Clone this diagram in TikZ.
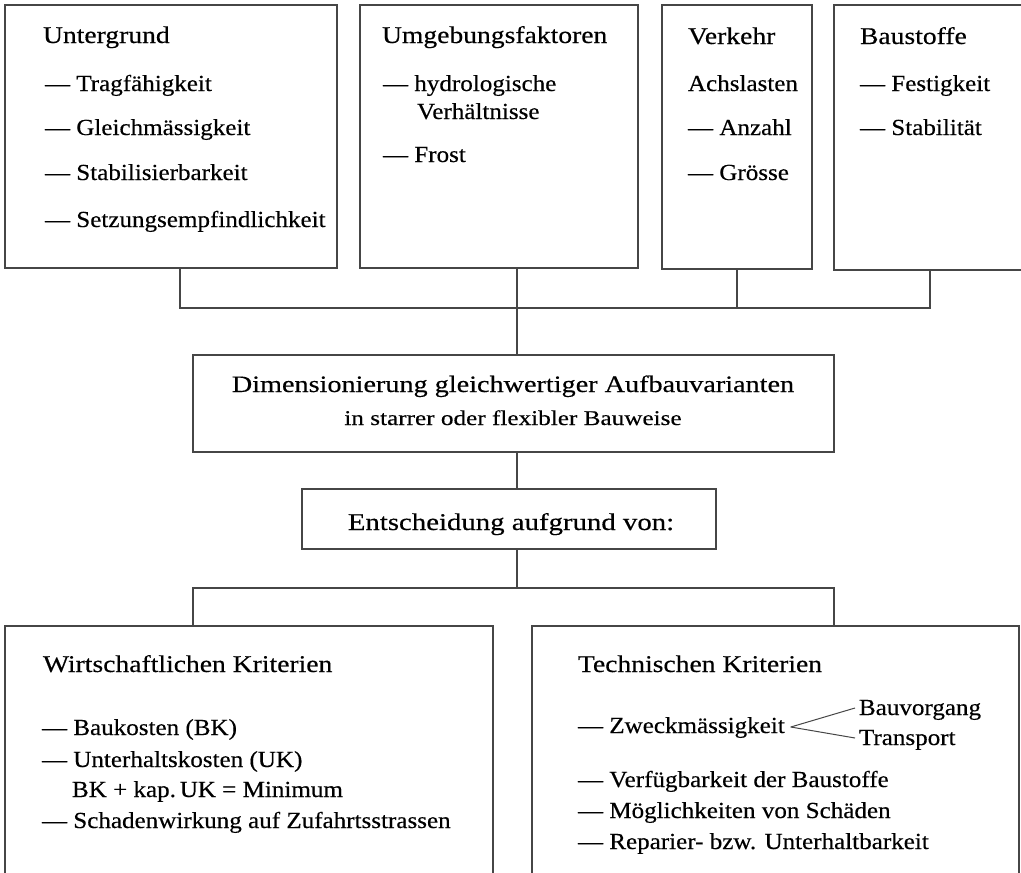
\documentclass[tikz,border=0pt]{standalone}
\usepackage{fontspec}
\setmainfont{Liberation Serif}
\newfontfamily\itemfont{Liberation Serif}[FakeStretch=1.09,FakeBold=0.4]
\newfontfamily\headfont{Liberation Serif}[FakeStretch=1.15,FakeBold=0.4]
\newfontfamily\widefont{Liberation Serif}[FakeStretch=1.2,FakeBold=0.4]
\definecolor{linegray}{RGB}{70,70,70}
\begin{document}
\begin{tikzpicture}[x=1pt,y=-1pt,
  box/.style={draw=linegray, line width=1.3pt, inner sep=0pt, outer sep=0pt, anchor=north west},
  txt/.style={anchor=base west, inner sep=0pt, outer sep=0pt, font=\itemfont\fontsize{23}{28}\selectfont},
  head/.style={txt, font=\headfont\fontsize{24}{28}\selectfont},
  ctxt/.style={anchor=base, inner sep=0pt, outer sep=0pt},
  link/.style={draw=linegray, line width=1.2pt}]
\useasboundingbox (0,0) rectangle (1021,873);
\clip (0,0) rectangle (1021,873);

% boxes
\node[box, minimum width=332pt, minimum height=263pt] (ug) at (5,5) {};
\node[box, minimum width=278pt, minimum height=263pt] (uf) at (360,5) {};
\node[box, minimum width=150pt, minimum height=264pt] (vk) at (662,5) {};
\node[box, minimum width=200pt, minimum height=265pt] (bs) at (834,5) {};
\node[box, minimum width=641pt, minimum height=97pt] (dim) at (193,355) {};
\node[box, minimum width=414pt, minimum height=60pt] (ent) at (302,489) {};
\node[box, minimum width=488pt, minimum height=270pt] (wk) at (5,626) {};
\node[box, minimum width=487pt, minimum height=270pt] (tk) at (532,626) {};

% Untergrund
\node[head] (ug0) at (43,43) {Untergrund};
\node[txt] (ug1) at (45,91) {— Tragfähigkeit};
\node[txt] (ug2) at (45,135) {— Gleichmässigkeit};
\node[txt] (ug3) at (45,180) {— Stabilisierbarkeit};
\node[txt] (ug4) at (45,227) {— Setzungsempfindlichkeit};

% Umgebungsfaktoren
\node[head] (uf0) at (382,43) {Umgebungsfaktoren};
\node[txt] (uf1) at (383,91) {— hydrologische};
\node[txt] (uf2) at (417,119) {Verhältnisse};
\node[txt] (uf3) at (383,162) {— Frost};

% Verkehr
\node[head] (vk0) at (688,44) {Verkehr};
\node[txt] (vk1) at (688,91) {Achslasten};
\node[txt] (vk2) at (688,135) {— Anzahl};
\node[txt] (vk3) at (688,180) {— Grösse};

% Baustoffe
\node[head] (bs0) at (860,44) {Baustoffe};
\node[txt] (bs1) at (860,91) {— Festigkeit};
\node[txt] (bs2) at (860,135) {— Stabilität};

% Dimensionierung
\node[ctxt, font=\widefont\fontsize{23.5}{28}\selectfont] (dim1) at (513,392) {Dimensionierung gleichwertiger Aufbauvarianten};
\node[ctxt, font=\widefont\fontsize{21}{24}\selectfont] (dim2) at (513,425) {in starrer oder flexibler Bauweise};

% Entscheidung
\node[ctxt, font=\widefont\fontsize{24}{28}\selectfont] (ent1) at (511,530) {Entscheidung aufgrund von:};

% Wirtschaftliche Kriterien
\node[head] (wk0) at (43,672) {Wirtschaftlichen Kriterien};
\node[txt] (wk1) at (42,735) {— Baukosten (BK)};
\node[txt] (wk2) at (42,767) {— Unterhaltskosten (UK)};
\node[txt] (wk3) at (72,797) {BK + kap.\,UK = Minimum};
\node[txt] (wk4) at (42,828) {— Schadenwirkung auf Zufahrtsstrassen};

% Technische Kriterien
\node[head] (tk0) at (578,672) {Technischen Kriterien};
\node[txt] (tk1) at (578,733) {— Zweckmässigkeit};
\node[txt] (bau) at (859,715) {Bauvorgang};
\node[txt] (tra) at (859,745) {Transport};
\node[txt] (tk2) at (578,787) {— Verfügbarkeit der Baustoffe};
\node[txt] (tk3) at (578,818) {— Möglichkeiten von Schäden};
\node[txt] (tk4) at (578,849) {— Reparier- bzw. Unterhaltbarkeit};

% fork after Zweckmässigkeit
\coordinate (fork) at ([shift={(6,-6)}]tk1.base east);
\draw[link, line width=1pt] (fork) -- ([shift={(-4,-7)}]bau.base west);
\draw[link, line width=1pt] (fork) -- ([shift={(-4,-7)}]tra.base west);

% upper collector
\coordinate (j1) at (180,308);
\coordinate (j2) at (517,308);
\coordinate (j3) at (737,308);
\coordinate (j4) at (930,308);
\draw[link] (j1 |- ug.south) -- (j1) -- (j4) -- (j4 |- bs.south);
\draw[link] (j2 |- uf.south) -- (j2 |- dim.north);
\draw[link] (j3 |- vk.south) -- (j3);
\draw[link] (j2 |- dim.south) -- (j2 |- ent.north);

% lower distributor
\coordinate (k) at (517,588);
\coordinate (k1) at (193,588);
\coordinate (k2) at (834,588);
\draw[link] (k |- ent.south) -- (k);
\draw[link] (k1 |- wk.north) -- (k1) -- (k2) -- (k2 |- tk.north);
\end{tikzpicture}
\end{document}
